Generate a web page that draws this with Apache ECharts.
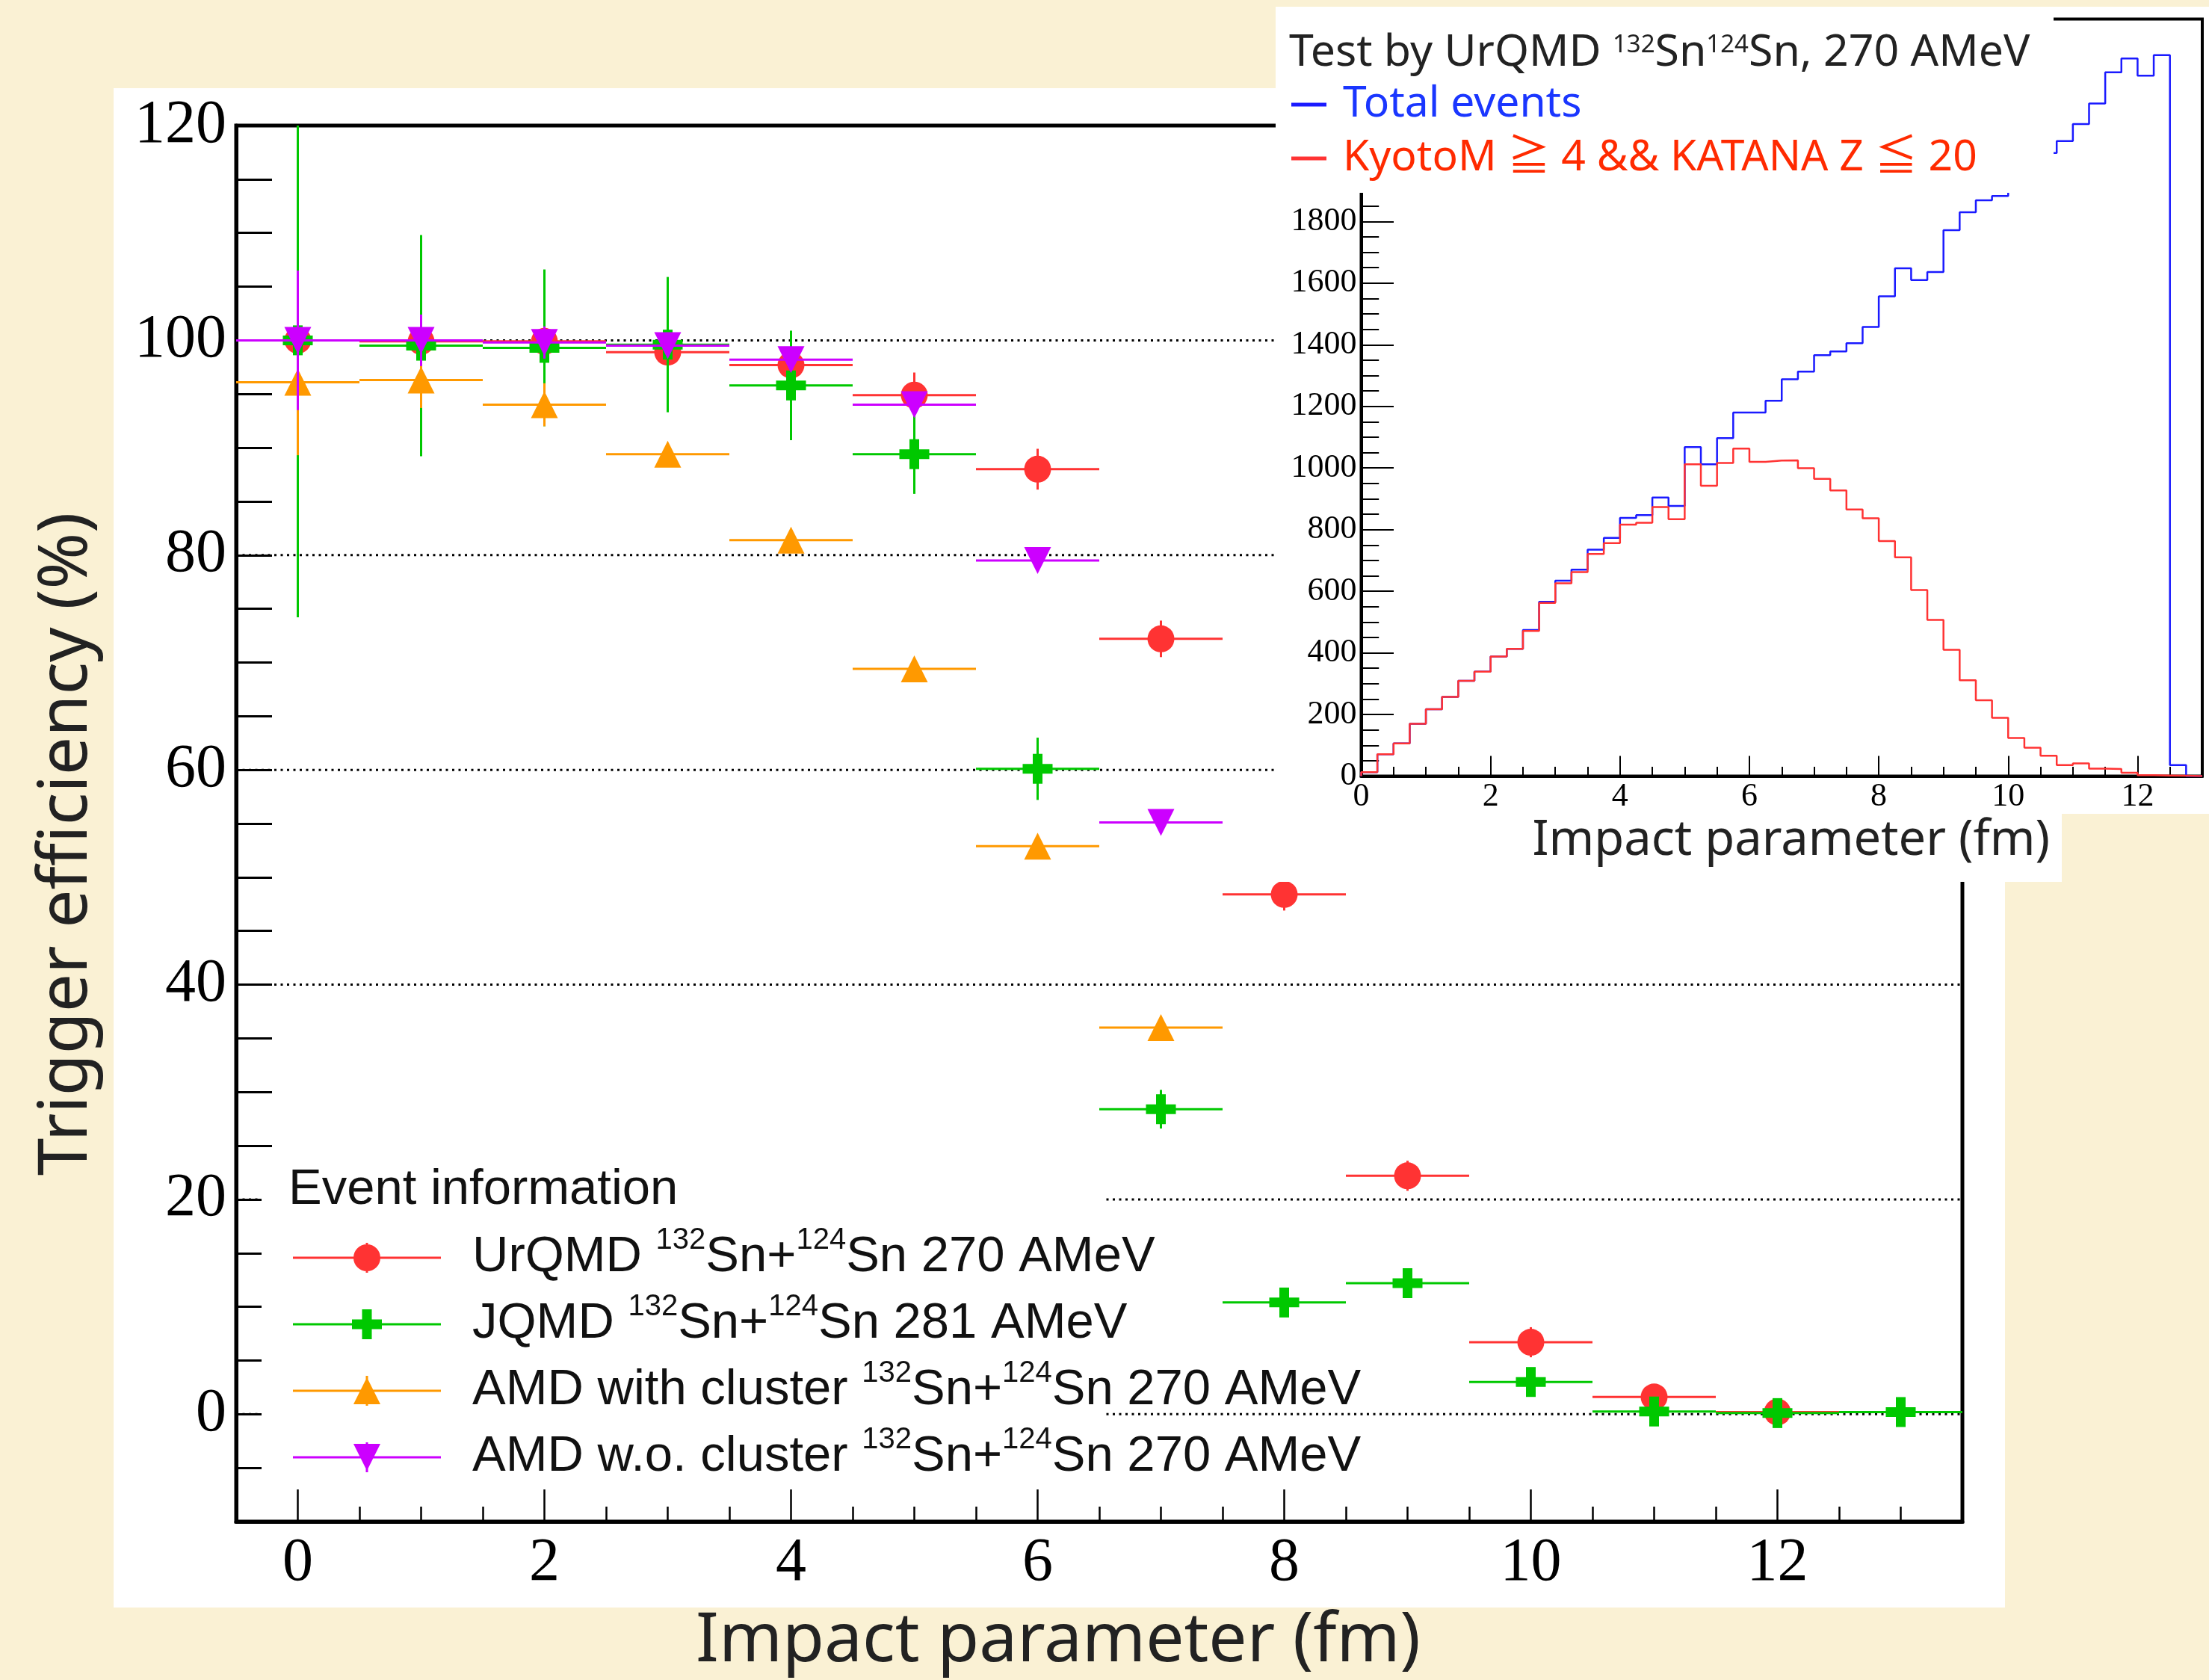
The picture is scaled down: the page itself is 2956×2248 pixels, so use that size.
<!DOCTYPE html>
<html>
<head>
<meta charset="utf-8">
<title>Trigger efficiency</title>
<script src="https://cdn.jsdelivr.net/npm/echarts@6.0.0/dist/echarts.min.js"></script>
<style>
html, body { margin: 0; padding: 0; background: #faf1d4; }
#main { width: 2956px; height: 2248px; }
</style>
</head>
<body>
<div id="main"></div>
<script>
// impact parameter (fm) of each point
var bValues = [0, 1, 2, 3, 4, 5, 6, 7, 8, 9, 10, 11, 12, 13];

// trigger efficiency (%) and its error, one pair per model
var urqmdEff = [100, 99.9, 99.9, 98.9, 97.7, 94.9, 88.0, 72.2, 48.4, 22.2, 6.7, 1.6, 0.2];
var urqmdErr = [1.2, 1.2, 1.2, 1.2, 1.5, 2.1, 1.9, 1.7, 1.5, 1.4, 1.4, 1.2, 1.0];
var jqmdEff = [100, 99.5, 99.3, 99.6, 95.8, 89.4, 60.1, 28.4, 10.4, 12.2, 3.0, 0.25, 0.1, 0.2];
var jqmdErr = [25.8, 10.3, 7.3, 6.3, 5.1, 3.7, 2.9, 1.8, 0.8, 0.8, 0.8, 0.8, 0.8, 0.8];
var amdClusterEff = [96.1, 96.3, 94.0, 89.4, 81.4, 69.4, 52.9, 36.0];
var amdClusterErr = [6.8, 2.6, 2.0, 1.0, 0.8, 0.8, 0.8, 0.8];
var amdNoClusterEff = [100, 100, 99.8, 99.5, 98.2, 94.0, 79.5, 55.1];
var amdNoClusterErr = [6.5, 2.4, 1.5, 1.0, 0.8, 0.8, 0.8, 0.8];

var modelNames = ['UrQMD', 'JQMD', 'AMD with cluster', 'AMD w.o. cluster'];
var beamEnergies = ['270', '281', '270', '270'];

// tick labels and dotted levels
var bTickLabels = [0, 2, 4, 6, 8, 10, 12];
var effGridLevels = [0, 20, 40, 60, 80, 100];

// inset histograms: counts per 0.25 fm bin, 0 to 13 fm
var histBinWidth = 0.25;
var totalCounts = [13, 71, 106, 170, 217, 257, 309, 339, 388, 413,
    474, 566, 634, 670, 735, 773, 838, 847, 904, 877,
    1068, 1012, 1097, 1180, 1180, 1218, 1288, 1313, 1366, 1378,
    1405, 1458, 1557, 1648, 1610, 1636, 1772, 1830, 1869, 1883,
    1925, 1975, 2022, 2061, 2116, 2183, 2284, 2329, 2273, 2340,
    36, 0];
var triggeredCounts = [13, 71, 106, 170, 217, 257, 309, 339, 388, 413,
    471, 562, 626, 662, 721, 756, 816, 822, 873, 834,
    1012, 942, 1016, 1063, 1020, 1024, 1025, 999, 965, 927,
    865, 837, 763, 710, 604, 507, 410, 311, 246, 189,
    124, 92, 66, 36, 41, 24, 23, 11, 3, 2,
    1, 0];

var myChart = echarts.init(document.getElementById('main'));

var bMin = -0.5, bMax = 13.5, effMin = -10, effMax = 120;
var binHalf = 0.5;
var colors = ['#ff3333', '#00c800', '#ff9900', '#cc00ff'];
var markers = ['circle', 'cross', 'up', 'down'];
var blueLine = '#1a1aff', redLine = '#ff3333';

// legend icons: line + marker + short error bar, 198x40 (all drawn clockwise)
var legendIcons = [
    'path://M0,18.5h198v3h-198z M97.5,0h3v40h-3z M81,20a18,18 0 1,1 36,0a18,18 0 1,1 -36,0z',
    'path://M0,18.5h198v3h-198z M92.5,0h13v40h-13z M79,13.5h40v13h-40z',
    'path://M0,18.5h198v3h-198z M97.5,0h3v40h-3z M99,2L117,38H81z',
    'path://M0,18.5h198v3h-198z M97.5,0h3v40h-3z M81,2H117L99,38z'
];

function markerShape(kind, c, color) {
    if (kind === 'circle') {
        return {type: 'circle', shape: {cx: c[0], cy: c[1], r: 18}, style: {fill: color}};
    }
    if (kind === 'cross') {
        return {type: 'group', children: [
            {type: 'rect', shape: {x: c[0] - 20, y: c[1] - 6.5, width: 40, height: 13}, style: {fill: color}},
            {type: 'rect', shape: {x: c[0] - 6.5, y: c[1] - 20, width: 13, height: 40}, style: {fill: color}}
        ]};
    }
    if (kind === 'up') {
        return {type: 'polygon', shape: {points: [[c[0], c[1] - 18], [c[0] + 18, c[1] + 18], [c[0] - 18, c[1] + 18]]}, style: {fill: color}};
    }
    return {type: 'polygon', shape: {points: [[c[0] - 18, c[1] - 18], [c[0] + 18, c[1] - 18], [c[0], c[1] + 18]]}, style: {fill: color}};
}

function errorSeries(idx, effs, errs) {
    var color = colors[idx];
    var data = [];
    for (var i = 0; i < effs.length; i++) {
        data.push([bValues[i], effs[i], errs[i]]);
    }
    return {
        type: 'custom',
        name: modelNames[idx],
        xAxisIndex: 0,
        yAxisIndex: 0,
        z: 2,
        clip: true,
        itemStyle: {color: color},
        encode: {x: 0, y: 1},
        data: data,
        renderItem: function (params, api) {
            var x = api.value(0), y = api.value(1), e = api.value(2);
            var l = api.coord([x - binHalf, y]);
            var r = api.coord([x + binHalf, y]);
            var t = api.coord([x, Math.min(y + e, effMax)]);
            var b = api.coord([x, y - e]);
            var c = api.coord([x, y]);
            return {
                type: 'group',
                children: [
                    {type: 'line', shape: {x1: l[0], y1: l[1], x2: r[0], y2: r[1]}, style: {stroke: color, lineWidth: 3}},
                    {type: 'line', shape: {x1: t[0], y1: t[1], x2: b[0], y2: b[1]}, style: {stroke: color, lineWidth: 3}},
                    markerShape(markers[idx], c, color)
                ]
            };
        }
    };
}

function histPoints(counts) {
    var pts = [[0, 0]];
    for (var i = 0; i < counts.length; i++) {
        pts.push([i * histBinWidth, counts[i]]);
    }
    pts.push([counts.length * histBinWidth, counts[counts.length - 1]]);
    return pts;
}

var supText = function (i) {
    return modelNames[i] + ' {sup|132}Sn+{sup|124}Sn ' + beamEnergies[i] + ' AMeV';
};

var option = {
    backgroundColor: '#faf1d4',
    animation: false,
    title: [{
        text: 'Event information',
        left: 386,
        top: 1560,
        padding: 0,
        z: 4,
        textStyle: {fontFamily: 'Liberation Sans', fontSize: 67, fontWeight: 'normal', color: '#111', lineHeight: 66}
    }, {
        text: 'Test by UrQMD {s|132}Sn{s|124}Sn, 270 AMeV',
        left: 1725,
        top: 44,
        padding: 0,
        z: 14,
        textStyle: {
            fontFamily: 'Noto Sans', fontSize: 59, fontWeight: 'normal', color: '#222', lineHeight: 54,
            rich: {s: {fontFamily: 'Noto Sans', fontSize: 33, color: '#222', verticalAlign: 'top', lineHeight: 32}}
        }
    }],
    legend: [{
        orient: 'vertical',
        left: 392,
        top: 1640,
        padding: 0,
        itemWidth: 198,
        itemHeight: 40,
        itemGap: 3,
        z: 4,
        selectedMode: false,
        data: modelNames.map(function (n, i) { return {name: n, icon: legendIcons[i]}; }),
        formatter: function (name) { return supText(modelNames.indexOf(name)); },
        textStyle: {
            fontFamily: 'Liberation Sans', fontSize: 67, color: '#111', lineHeight: 86, padding: [0, 0, 0, 37],
            rich: {sup: {fontFamily: 'Liberation Sans', fontSize: 40, color: '#111', verticalAlign: 'top', lineHeight: 40}}
        }
    }, {
        orient: 'vertical',
        left: 1728,
        top: 110,
        padding: 0,
        itemWidth: 47,
        itemHeight: 5,
        itemGap: 12,
        z: 14,
        selectedMode: false,
        data: [
            {name: 'Total events', icon: 'path://M0,0h47v5h-47z', textStyle: {color: '#1a36ff'}},
            {name: 'KyotoM ≧ 4 && KATANA Z ≦ 20', icon: 'path://M0,0h47v5h-47z', textStyle: {color: '#ff2a00'}}
        ],
        textStyle: {fontFamily: "'Noto Sans', 'Noto Sans CJK JP'", fontSize: 57, lineHeight: 60, padding: [0, 0, 0, 17]}
    }],
    grid: [
        {left: 316, top: 168, width: 2310, height: 1871, show: true, borderColor: '#000', borderWidth: 5, z: 0},
        {left: 1821.5, top: 25.5, width: 1125.5, height: 1013, show: true, borderColor: '#000', borderWidth: 4, z: 11}
    ],
    xAxis: [{
        // main axis: minor ticks every 0.5 fm, labels at even values
        type: 'value', gridIndex: 0, position: 'bottom', min: bMin, max: bMax, interval: 0.5, z: 0,
        axisLine: {onZero: false, lineStyle: {color: '#000', width: 5}},
        axisTick: {inside: true, length: 20, lineStyle: {color: '#000', width: 2.5}},
        axisLabel: {customValues: bTickLabels, fontFamily: 'Liberation Serif', fontSize: 82, color: '#000', margin: 15},
        splitLine: {show: false},
        name: 'Impact parameter (fm)',
        nameLocation: 'middle',
        nameGap: 116,
        nameTextStyle: {fontFamily: 'Noto Sans', fontSize: 91, color: '#222', padding: [0, 110, 0, 0]}
    }, {
        // main axis: major ticks
        type: 'value', gridIndex: 0, position: 'bottom', min: bMin, max: bMax, interval: 0.5, z: 0,
        axisLine: {show: false, onZero: false},
        axisTick: {inside: true, length: 43, customValues: bTickLabels, lineStyle: {color: '#000', width: 2.5}},
        axisLabel: {show: false},
        splitLine: {show: false}
    }, {
        // inset axis
        type: 'value', gridIndex: 1, position: 'bottom', min: 0, max: 13, interval: 2, z: 11,
        axisLine: {onZero: false, lineStyle: {color: '#000', width: 4}},
        axisTick: {inside: true, length: 27, lineStyle: {color: '#000', width: 2}},
        axisLabel: {fontFamily: 'Liberation Serif', fontSize: 44, color: '#000', margin: 6, showMaxLabel: false},
        splitLine: {show: false},
        name: 'Impact parameter (fm)',
        nameLocation: 'middle',
        nameGap: 54,
        nameTextStyle: {fontFamily: 'Noto Sans', fontSize: 65, color: '#222', padding: [0, 0, 0, 25]}
    }, {
        type: 'value', gridIndex: 1, position: 'bottom', min: 0, max: 13, interval: 0.5, z: 11,
        axisLine: {show: false, onZero: false},
        axisTick: {inside: true, length: 12.6, lineStyle: {color: '#000', width: 2}},
        axisLabel: {show: false},
        splitLine: {show: false}
    }],
    yAxis: [{
        type: 'value', gridIndex: 0, min: effMin, max: effMax, interval: 5, z: 0,
        axisLine: {onZero: false, lineStyle: {color: '#000', width: 5}},
        axisTick: {inside: true, length: 48, lineStyle: {color: '#000', width: 3}},
        axisLabel: {
            fontFamily: 'Liberation Serif', fontSize: 82, color: '#000', margin: 13,
            formatter: function (v) { return v % 20 === 0 ? String(v) : ''; }
        },
        splitLine: {show: false},
        name: 'Trigger efficiency (%)',
        nameLocation: 'middle',
        nameGap: 180,
        nameTextStyle: {fontFamily: 'Noto Sans', fontSize: 91, color: '#222', padding: [0, 55, 0, 0]}
    }, {
        type: 'value', gridIndex: 1, min: 0, max: 2457, interval: 200, z: 11,
        axisLine: {onZero: false, lineStyle: {color: '#000', width: 4}},
        axisTick: {inside: true, length: 43.5, lineStyle: {color: '#000', width: 2}},
        minorTick: {show: true, splitNumber: 4, length: 23.7, lineStyle: {color: '#000', width: 2}},
        axisLabel: {
            fontFamily: 'Liberation Serif', fontSize: 44, color: '#000', margin: 6, showMaxLabel: false,
            formatter: function (v) { return String(v); }
        },
        splitLine: {show: false}
    }],
    graphic: [
        {type: 'rect', shape: {x: 152, y: 118, width: 2531, height: 2033}, style: {fill: '#fff'}, z: -10, silent: true},
        // legend pad, hides the tick ends and dotted lines behind it
        {type: 'rect', shape: {x: 350, y: 1560, width: 1126, height: 420}, style: {fill: '#fff'}, z: 1.5, silent: true},
        // inset pad
        {type: 'rect', shape: {x: 1707, y: 9, width: 1249, height: 1080}, style: {fill: '#fff'}, z: 10, silent: true},
        {type: 'rect', shape: {x: 1707, y: 1089, width: 1052, height: 91}, style: {fill: '#fff'}, z: 10, silent: true},
        // inset title box
        {type: 'rect', shape: {x: 1707, y: 9, width: 1041, height: 249}, style: {fill: '#fff'}, z: 13, silent: true}
    ],
    series: [
        {
            type: 'custom',
            name: 'levels',
            xAxisIndex: 0,
            yAxisIndex: 0,
            z: 1,
            silent: true,
            encode: {y: 0},
            data: effGridLevels.map(function (v) { return [v]; }),
            renderItem: function (params, api) {
                var y = api.value(0);
                var p1 = api.coord([bMin, y]);
                var p2 = api.coord([bMax, y]);
                return {type: 'line', shape: {x1: p1[0], y1: p1[1], x2: p2[0], y2: p2[1]},
                    style: {stroke: '#000', lineWidth: 3, lineDash: [3, 5.5]}};
            }
        },
        errorSeries(0, urqmdEff, urqmdErr),
        errorSeries(1, jqmdEff, jqmdErr),
        errorSeries(2, amdClusterEff, amdClusterErr),
        errorSeries(3, amdNoClusterEff, amdNoClusterErr),
        {
            type: 'line',
            name: 'Total events',
            xAxisIndex: 2,
            yAxisIndex: 1,
            z: 12,
            step: 'end',
            symbol: 'none',
            color: blueLine,
            lineStyle: {color: blueLine, width: 2.5},
            data: histPoints(totalCounts)
        },
        {
            type: 'line',
            name: 'KyotoM ≧ 4 && KATANA Z ≦ 20',
            xAxisIndex: 2,
            yAxisIndex: 1,
            z: 12,
            step: 'end',
            symbol: 'none',
            color: redLine,
            lineStyle: {color: redLine, width: 2.5},
            data: histPoints(triggeredCounts)
        }
    ]
};

myChart.setOption(option);
window.addEventListener('resize', function () {
    myChart.resize();
});
</script>
</body>
</html>
